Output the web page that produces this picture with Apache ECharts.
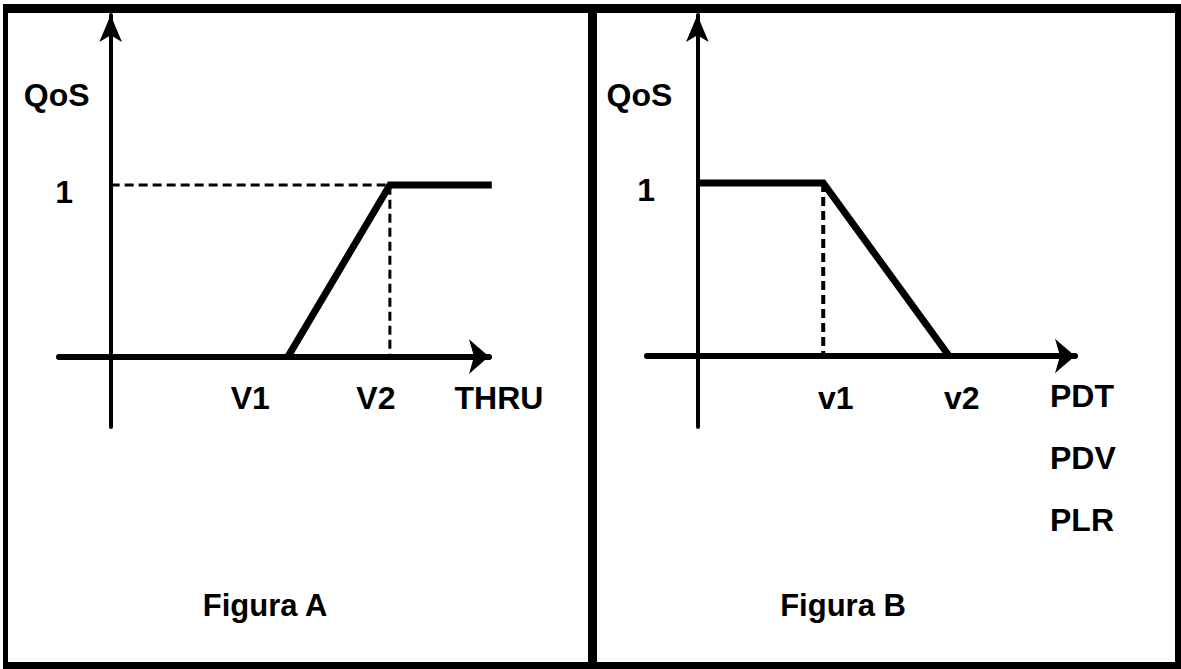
<!DOCTYPE html>
<html>
<head>
<meta charset="utf-8">
<script src="https://cdn.jsdelivr.net/npm/echarts@6/dist/echarts.min.js"></script>
<style>
  html, body { margin: 0; padding: 0; background: #fff; }
  #chart { width: 1181px; height: 669px; }
</style>
</head>
<body>
<div id="chart"></div>
<script>
// Figura A: QoS rises with throughput
const qosA = [[1.27, 0], [2, 1], [2.73, 1]]
const guideA = [[0, 1], [2, 1], [2, 0]]
const xTicksA = [1.0, 1.9]
const xTickLabelsA = ['V1', 'V2']
const xNameA = 'THRU'

// Figura B: QoS falls with delay / jitter / loss
const qosB = [[0, 1], [1, 1], [2, 0]]
const guideB = [[1, 1], [1, 0]]
const xTicksB = [1.1, 2.1]
const xTickLabelsB = ['v1', 'v2']
const xNamesB = ['PDT', 'PDV', 'PLR']

const yTicks = [1]
const yTickLabels = ['1']
const yName = 'QoS'
const figureNames = ['Figura A', 'Figura B']

const FONT = '"Liberation Sans Narrow", "Liberation Sans", Arial, sans-serif'
const black = '#000'

const textStyle = {
  color: black,
  fontFamily: FONT,
  fontWeight: 'bold',
  fontSize: 32,
  lineHeight: 32
}

function pick(ticks, labels) {
  return function (v) {
    let best = 0
    ticks.forEach((t, i) => {
      if (Math.abs(t - v) < Math.abs(ticks[best] - v)) best = i
    })
    return labels[best]
  }
}

// labels stay on the grid edge, so margins are measured from there
function xAxis(grid, min, max, ticks, labels, name, nameOpts) {
  return {
    type: 'value',
    gridIndex: grid,
    min: min,
    max: max,
    splitLine: { show: false },
    axisTick: { show: false },
    axisLine: {
      show: true,
      onZero: true,
      symbol: ['none', 'arrow'],
      symbolSize: [26, 20],
      lineStyle: { color: black, width: 6 }
    },
    axisLabel: {
      ...textStyle,
      margin: -45,
      customValues: ticks,
      formatter: pick(ticks, labels)
    },
    name: name,
    nameLocation: 'end',
    nameGap: nameOpts.gap,
    nameTextStyle: {
      ...textStyle,
      align: nameOpts.align,
      verticalAlign: 'top',
      lineHeight: nameOpts.lineHeight || 32,
      padding: [nameOpts.padTop, 0, 0, 0]
    }
  }
}

function yAxis(grid, min, max, labelMargin, namePad) {
  return {
    type: 'value',
    gridIndex: grid,
    min: min,
    max: max,
    splitLine: { show: false },
    axisTick: { show: false },
    axisLine: {
      show: true,
      onZero: true,
      symbol: ['none', 'arrow'],
      symbolSize: [17, 27],
      lineStyle: { color: black, width: 4 }
    },
    axisLabel: {
      ...textStyle,
      margin: labelMargin,
      verticalAlign: 'top',
      lineHeight: 14,
      customValues: yTicks,
      formatter: pick(yTicks, yTickLabels)
    },
    name: yName,
    nameLocation: 'end',
    nameGap: -80,
    nameTextStyle: {
      ...textStyle,
      align: 'right',
      verticalAlign: 'middle',
      padding: [0, namePad, 0, 0]
    }
  }
}

function line(grid, data, width, dashed) {
  return {
    type: 'line',
    xAxisIndex: grid,
    yAxisIndex: grid,
    data: data,
    symbol: 'none',
    clip: false,
    silent: true,
    z: dashed ? 2 : 3,
    lineStyle: {
      color: black,
      width: width,
      type: dashed ? [9, 5] : 'solid',
      cap: 'butt',
      join: 'miter'
    }
  }
}

const chart = echarts.init(document.getElementById('chart'), null, { renderer: 'svg' })

const frame = [
  { x: 3, y: 4, width: 1178, height: 9 },
  { x: 3, y: 662, width: 1178, height: 7 },
  { x: 3, y: 4, width: 5, height: 665 },
  { x: 1175, y: 4, width: 6, height: 665 },
  { x: 588, y: 4, width: 9, height: 665 }
]

const option = {
  animation: false,
  backgroundColor: '#fff',
  grid: [
    { left: 59, top: 15, width: 430, height: 412, containLabel: false },
    { left: 647, top: 15, width: 428, height: 412, containLabel: false }
  ],
  xAxis: [
    xAxis(0, -0.37, 2.71, xTicksA, xTickLabelsA, xNameA,
      { gap: 10, align: 'center', padTop: 25 }),
    xAxis(1, -0.4, 3.0, xTicksB, xTickLabelsB, xNamesB.join('\n'),
      { gap: -25, align: 'left', padTop: 9, lineHeight: 62 })
  ],
  yAxis: [
    yAxis(0, -0.41, 1.99, -14, 21),
    yAxis(1, -0.41, 1.97, -8, 25)
  ],
  series: [
    line(0, guideA, 3, true),
    line(0, qosA, 7, false),
    line(1, guideB, 4, true),
    line(1, qosB, 7, false)
  ],
  graphic: [
    ...frame.map(r => ({
      type: 'rect',
      shape: r,
      style: { fill: black },
      silent: true,
      z: 10
    })),
    {
      type: 'text',
      x: 265,
      y: 605,
      style: {
        text: figureNames[0],
        fill: black,
        font: 'bold 31px ' + FONT,
        align: 'center',
        verticalAlign: 'middle'
      }
    },
    {
      type: 'text',
      x: 843,
      y: 605,
      style: {
        text: figureNames[1],
        fill: black,
        font: 'bold 31px ' + FONT,
        align: 'center',
        verticalAlign: 'middle'
      }
    }
  ]
}

chart.setOption(option)
</script>
</body>
</html>
